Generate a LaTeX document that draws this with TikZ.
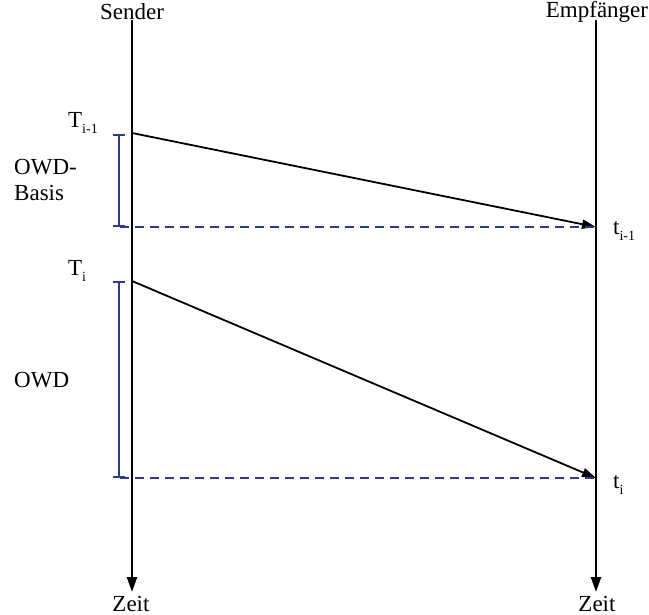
\documentclass[tikz,border=0pt]{standalone}
\usepackage{fontspec}
\setmainfont{Liberation Serif}
\usetikzlibrary{arrows.meta}
\definecolor{navy}{RGB}{48,58,140}
\newcommand{\lowsub}[1]{\raisebox{-6pt}{\fontsize{14}{14}\selectfont #1}}
\begin{document}
\begin{tikzpicture}[x=1pt,y=-1pt,
  lbl/.style={font=\fontsize{23}{26}\selectfont, inner sep=0pt},
  timeline/.style={line width=2.4pt, -{Triangle[length=15pt,width=10pt]}},
  msg/.style={line width=1.8pt, -{Triangle[length=14pt,width=9pt]}},
  ref/.style={navy, line width=1.6pt, dash pattern=on 9pt off 6pt},
  span/.style={navy, line width=1.6pt, {Bar[width=12pt,line width=1.6pt]}-{Bar[width=12pt,line width=1.6pt]}}]
  \useasboundingbox (0,0) rectangle (649,615);

  % lifelines
  \coordinate (s0) at (132,20);
  \coordinate (s1) at (132,592);
  \coordinate (r0) at (596,20);
  \coordinate (r1) at (596,592);
  \draw[timeline] (s0) -- (s1);
  \draw[timeline] (r0) -- (r1);
  \node[lbl] (snd) at (132,12) {Sender};
  \node[lbl] (rcv) at (597,12) {Empfänger};
  \node[lbl] (zs) at (131,604) {Zeit};
  \node[lbl] (zr) at (597,604) {Zeit};

  % send and receive instants
  \coordinate (T1) at (132,133);
  \coordinate (t1) at (596,227);
  \coordinate (T2) at (132,281);
  \coordinate (t2) at (596,478);
  \draw[msg] (T1) -- (t1);
  \draw[msg] (T2) -- (t2);

  % reference lines back to the sender axis
  \coordinate (d1) at (120,227);
  \coordinate (d2) at (120,478);
  \draw[ref] (d1) -- (t1);
  \draw[ref] (d2) -- (t2);

  % delay spans
  \coordinate (b1a) at (119,134);
  \coordinate (b1b) at (119,227);
  \coordinate (b2a) at (119,281);
  \coordinate (b2b) at (119,478);
  \draw[span] (b1a) -- (b1b);
  \draw[span] (b2a) -- (b2b);

  % labels
  \node[lbl, anchor=base west] (lT1) at (68,128) {T\lowsub{i-1}};
  \node[lbl, anchor=base west] (lT2) at (68,276) {T\lowsub{i}};
  \node[lbl, anchor=base west] (lt1) at (613,235) {t\lowsub{i-1}};
  \node[lbl, anchor=base west] (lt2) at (613,488) {t\lowsub{i}};
  \node[lbl, anchor=base west, align=left] (owdb) at (14,201) {OWD-\\Basis};
  \node[lbl, anchor=base west] (owd) at (14,387) {OWD};
\end{tikzpicture}
\end{document}
